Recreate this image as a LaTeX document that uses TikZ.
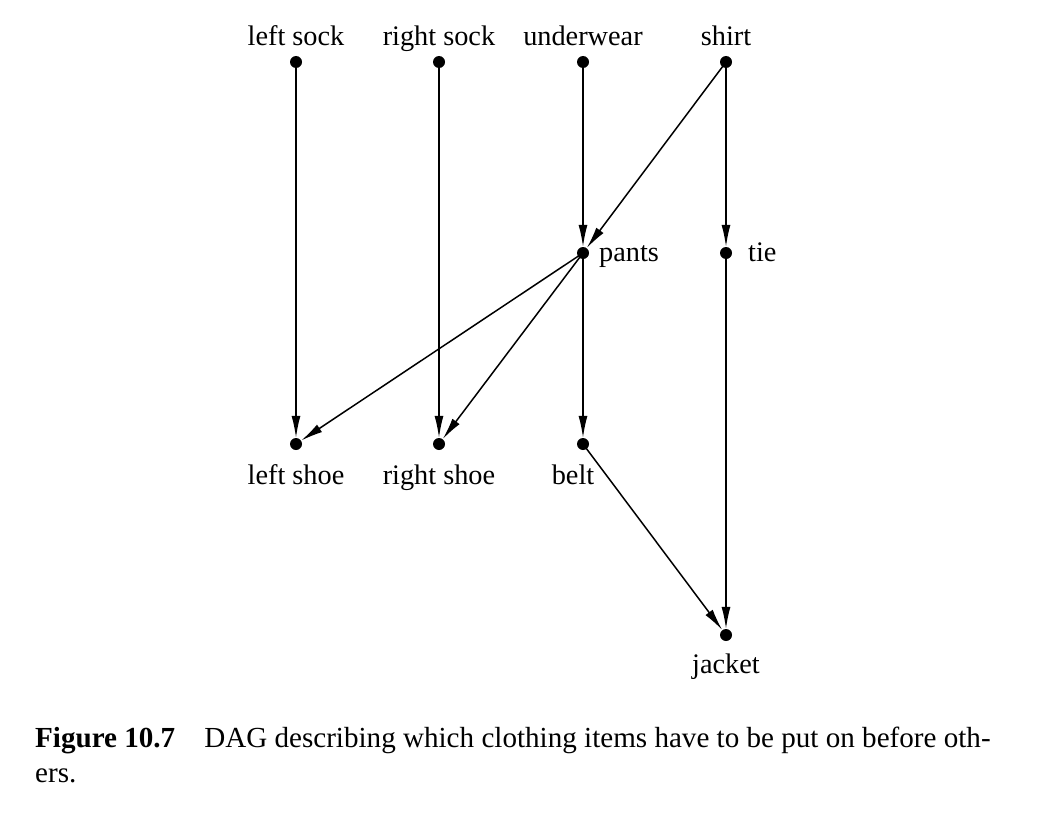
\documentclass[tikz,border=0pt]{standalone}
\usepackage{fontspec}
\setmainfont{Liberation Serif}
\usetikzlibrary{arrows.meta}
\begin{document}
\begin{tikzpicture}[x=1pt,y=-1pt,
  vtx/.style={circle,fill=black,inner sep=0pt,minimum size=12pt},
  lbl/.style={font=\fontsize{28.3}{32}\selectfont,inner sep=0pt,anchor=base},
  edge/.style={line width=1.5pt,-{Latex[length=22pt,width=9pt]},shorten >=0pt},
  captxt/.style={font=\fontsize{29.1}{34}\selectfont,inner sep=0pt,anchor=base west}]
\useasboundingbox (0,0) rectangle (1050,816);
\node[vtx] (ls) at (296,62) {};
\node[vtx] (rs) at (439,62) {};
\node[vtx] (uw) at (583,62) {};
\node[vtx] (sh) at (726,62) {};
\node[vtx] (pa) at (583,253) {};
\node[vtx] (ti) at (726,253) {};
\node[vtx] (lsh) at (296,444) {};
\node[vtx] (rsh) at (439,444) {};
\node[vtx] (be) at (583,444) {};
\node[vtx] (ja) at (726,635) {};
\node[lbl] (tls) at (296,46) {left sock};
\node[lbl] (trs) at (439,46) {right sock};
\node[lbl] (tuw) at (583,46) {underwear};
\node[lbl] (tsh) at (726,46) {shirt};
\node[lbl,anchor=base west] (tpa) at (599,261) {pants};
\node[lbl,anchor=base west] (tti) at (748,261) {tie};
\node[lbl] (tlsh) at (296,484) {left shoe};
\node[lbl] (trsh) at (439,484) {right shoe};
\node[lbl] (tbe) at (573,484) {belt};
\node[lbl] (tja) at (726,673) {jacket};
\draw[edge] (ls.center) -- (lsh);
\draw[edge] (rs.center) -- (rsh);
\draw[edge] (uw.center) -- (pa);
\draw[edge] (sh.center) -- (pa);
\draw[edge] (sh.center) -- (ti);
\draw[edge] (pa.center) -- (lsh);
\draw[edge] (pa.center) -- (rsh);
\draw[edge] (pa.center) -- (be);
\draw[edge] (be.center) -- (ja);
\draw[edge] (ti.center) -- (ja);
\node[captxt] (c1) at (35,747) {\textbf{Figure 10.7}\hspace{29pt}DAG describing which clothing items have to be put on before oth-};
\node[captxt] (c2) at (35,782) {ers.};
\end{tikzpicture}
\end{document}
